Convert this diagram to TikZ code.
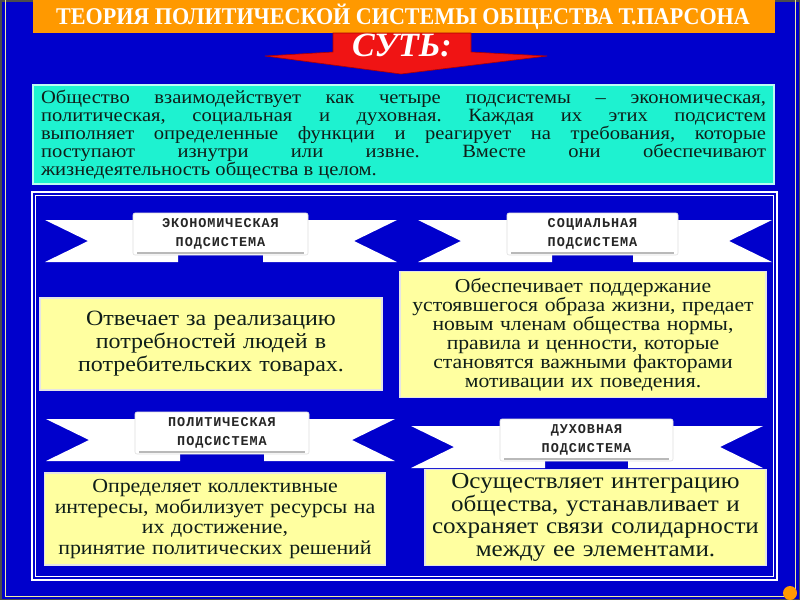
\documentclass[tikz,border=0pt]{standalone}
\usepackage{fontspec}
\setmainfont{Liberation Serif}[FakeStretch=1.1]
\newfontfamily\titlefont{Liberation Serif}[FakeStretch=0.92]
\newfontfamily\sutfont{Liberation Serif}
\newfontfamily\ribbonfont[LetterSpace=7]{Liberation Mono}
\definecolor{bgblue}{RGB}{0,0,204}
\definecolor{titleorange}{RGB}{255,153,0}
\definecolor{arrowred}{RGB}{240,20,20}
\definecolor{arrowdark}{RGB}{170,0,0}
\definecolor{cyanbox}{RGB}{30,242,208}
\definecolor{yellowfill}{RGB}{255,255,160}
\definecolor{framey}{RGB}{235,235,160}
\definecolor{textdark}{RGB}{15,30,25}
\tikzset{
  ybox/.style={fill=yellowfill, draw=white!80!gray, line width=1.2pt, align=center, inner sep=0pt, text=textdark},
  ribbontext/.style={align=center, font=\ribbonfont\bfseries\fontsize{13.5}{19}\selectfont, text=black!85, inner sep=0pt},
  wing/.style={fill=white},
  panel/.style={fill=white, draw=gray!25, line width=0.6pt, rounded corners=2pt},
  foldline/.style={draw=gray!55, line width=1.6pt}
}
% #1 L, #2 R, #3 P1, #4 P2, #5 T, #6 name, #7 line1, #8 line2
\newcommand{\myribbon}[8]{%
  \path[wing] (#1,#5+7) -- (#3+45,#5+7) -- (#3+45,#5+49) -- (#1,#5+49) -- (#1+43,#5+28) -- cycle;
  \path[wing] (#2,#5+7) -- (#4-45,#5+7) -- (#4-45,#5+49) -- (#2,#5+49) -- (#2-43,#5+28) -- cycle;
  \path[panel] (#3,#5) rectangle (#4,#5+42);
  \path[foldline] (#3+4,#5+40) -- (#4-4,#5+40);
  \node[ribbontext] (#6) at ({(#3+#4)/2},#5+20.5) {#7\\#8};
}
\begin{document}
\frenchspacing
\begin{tikzpicture}[x=1pt,y=-1pt]
\useasboundingbox (0,0) rectangle (800,600);
\fill[bgblue] (0,0) rectangle (800,600);
\draw[gray!60!black, line width=1.5pt] (0.75,0.75) rectangle (799.25,599.25);
\draw[framey, line width=1pt] (5,-3) rectangle (795,596);
% title
\fill[titleorange] (33,0) rectangle (775,33);
\node[text=white, font=\titlefont\bfseries\fontsize{24}{24}\selectfont, inner sep=0pt] (title) at (403,17) {ТЕОРИЯ ПОЛИТИЧЕСКОЙ СИСТЕМЫ ОБЩЕСТВА Т.ПАРСОНА};
% red arrow
\filldraw[fill=arrowred, draw=arrowdark, line width=0.6pt]
  (333,33) -- (471,33) -- (471,52) -- (547,56) -- (401,74) -- (265,56) -- (333,52) -- cycle;
\node[text=white, font=\sutfont\bfseries\itshape\fontsize{34}{34}\selectfont, inner sep=0pt] (sut) at (402,45) {СУТЬ:};
% cyan box
\node[fill=cyanbox, draw=white!70!cyanbox, line width=1.2pt, minimum width=741pt, minimum height=99pt,
      text width=725pt, align=justify, inner sep=0pt, text=textdark,
      font=\fontsize{18.7}{18}\selectfont] (intro) at (403.5,134.5)
 {Общество взаимодействует как четыре подсистемы – экономическая,\linebreak
  политическая, социальная и духовная. Каждая их этих подсистем\linebreak
  выполняет определенные функции и реагирует на требования, которые\linebreak
  поступают изнутри или извне. Вместе они обеспечивают\linebreak
  жизнедеятельность общества в целом.};
% inner frame
\draw[white, line width=2pt] (32,192) rectangle (777,580);
\draw[white, line width=0.8pt] (35.5,195.5) rectangle (773.5,576.5);
% ribbons
\myribbon{45}{397}{133}{308}{213}{econlabel}{ЭКОНОМИЧЕСКАЯ}{ПОДСИСТЕМА}
\myribbon{418}{772}{507}{678}{213}{soclabel}{СОЦИАЛЬНАЯ}{ПОДСИСТЕМА}
\myribbon{46}{395}{135}{309}{412}{pollabel}{ПОЛИТИЧЕСКАЯ}{ПОДСИСТЕМА}
\myribbon{411}{763}{500}{673}{419}{spirlabel}{ДУХОВНАЯ}{ПОДСИСТЕМА}
% yellow boxes
\node[ybox, minimum width=342pt, minimum height=92pt, text width=335pt,
      font=\fontsize{21.8}{23}\selectfont] (econbox) at (211,344)
 {Отвечает за реализацию\\потребностей людей в\\потребительских товарах.};
\node[ybox, minimum width=366pt, minimum height=126pt, text width=362pt,
      font=\fontsize{19.7}{19}\selectfont] (socbox) at (583,334.5)
 {Обеспечивает поддержание\\устоявшегося образа жизни, предает\\новым членам общества нормы,\\правила и ценности, которые\\становятся важными факторами\\мотивации их поведения.};
\node[ybox, minimum width=341pt, minimum height=92pt, text width=337pt,
      font=\fontsize{19.9}{20.5}\selectfont] (polbox) at (215,519)
 {Определяет коллективные\\интересы, мобилизует ресурсы на\\их достижение,\\принятие политических решений};
\node[ybox, minimum width=341pt, minimum height=96pt, text width=337pt,
      font=\fontsize{22.8}{22.7}\selectfont] (spirbox) at (595.5,517.5)
 {Осуществляет интеграцию\\общества, устанавливает и\\сохраняет связи солидарности\\между ее элементами.};
% corner dot
\fill[titleorange] (790,593) circle (7);
\end{tikzpicture}
\end{document}
